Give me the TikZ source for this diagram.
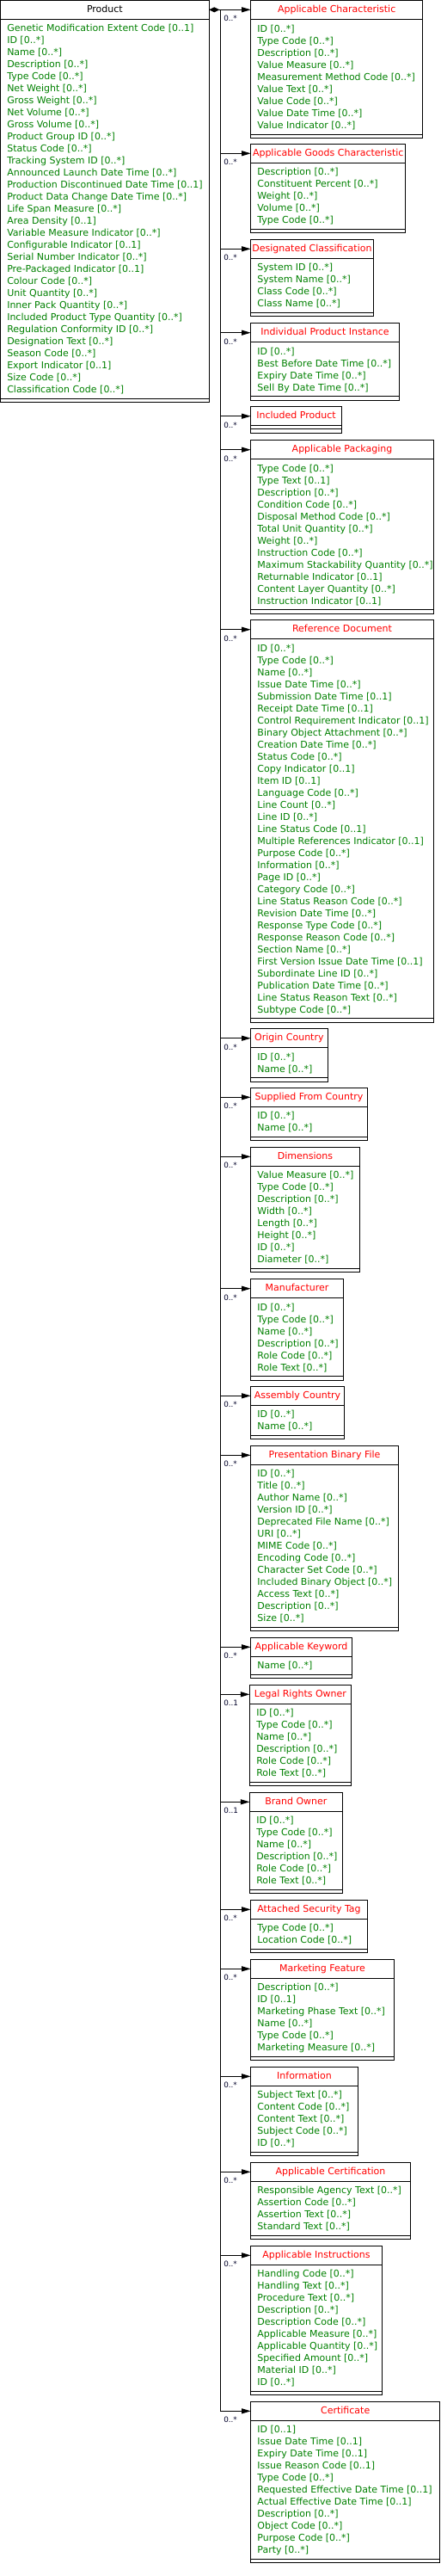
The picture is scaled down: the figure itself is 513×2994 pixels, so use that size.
\documentclass[tikz,border=0pt]{standalone}
\usepackage{fontspec}
\setmainfont{DejaVu Sans}
\usetikzlibrary{arrows.meta,calc}
\definecolor{ttlred}{RGB}{255,0,0}
\definecolor{attrgreen}{RGB}{0,128,0}
\definecolor{multcol}{RGB}{0,0,40}
\tikzset{
  umlframe/.style={draw=black, line width=0.75pt, inner sep=0pt, outer sep=0pt},
  umlline/.style={draw=black, line width=0.75pt},
  umltitle/.style={inner sep=0pt, font=\fontsize{8.25pt}{10pt}\selectfont},
  umlattr/.style={inner sep=0pt, text=attrgreen, font=\fontsize{8.25pt}{10pt}\selectfont},
  mult/.style={inner sep=0pt, anchor=base west, text=multcol, font=\fontsize{6.6pt}{8pt}\selectfont},
  assoc/.style={draw=black, line width=0.75pt, -{Triangle[length=8pt,width=4.5pt]}},
  comp/.style={draw=black, line width=0.75pt, {Diamond[length=9pt,width=4.5pt]}-{Triangle[length=8pt,width=4.5pt]}}
}
\newcommand\umlbox[8][ttlred]{%
  \pgfmathsetmacro\ubW{(#5-#3)*0.75}%
  \pgfmathsetmacro\ubS{(#6>0) ? (#4+43+14*(#6-1)) : (#4+26)}%
  \pgfmathsetmacro\ubB{\ubS+4.6}%
  \pgfmathsetmacro\ubH{(\ubB-#4)*0.75}%
  \pgfmathsetmacro\ubM{(#3+#5)/2}%
  \node[umlframe, minimum width=\ubW pt, minimum height=\ubH pt, anchor=north west] (#2) at (#3,#4) {};
  \node[umlframe, minimum width=\ubW pt, minimum height=16.5pt, anchor=north west] (#2-h) at (#3,#4) {};
  \node[umltitle, text=#1, anchor=base] (#2-t) at (\ubM,#4+14) {#7};
  \draw[umlline] (#3,\ubS) -- (#5,\ubS);
  \foreach \ua [count=\ui] in {#8} {\node[umlattr, anchor=base west] (#2-a\ui) at (#3+7.5,#4+22.5+14*\ui) {\ua};}
}
\newcommand\assoc[2]{%
  \draw[assoc] (trunk) |- (#1-h.west);
  \node[mult] (#1-m) at ($(#1-h.west -| trunk)+(3.3,13.3)$) {#2};
}
\begin{document}
\begin{tikzpicture}[x=0.75pt, y=-0.75pt]
\useasboundingbox (0,0) rectangle (513,2994);

\umlbox[black]{p}{0.5}{0.3}{243.3}{31}{Product}{Genetic Modification Extent Code [0..1], ID [0..*], Name [0..*], Description [0..*], Type Code [0..*], Net Weight [0..*], Gross Weight [0..*], Net Volume [0..*], Gross Volume [0..*], Product Group ID [0..*], Status Code [0..*], Tracking System ID [0..*], Announced Launch Date Time [0..*], Production Discontinued Date Time [0..1], Product Data Change Date Time [0..*], Life Span Measure [0..*], Area Density [0..1], Variable Measure Indicator [0..*], Configurable Indicator [0..1], Serial Number Indicator [0..*], Pre-Packaged Indicator [0..1], Colour Code [0..*], Unit Quantity [0..*], Inner Pack Quantity [0..*], Included Product Type Quantity [0..*], Regulation Conformity ID [0..*], Designation Text [0..*], Season Code [0..*], Export Indicator [0..1], Size Code [0..*], Classification Code [0..*]}

\umlbox{c1}{291.7}{1}{491.7}{9}{Applicable Characteristic}{ID [0..*], Type Code [0..*], Description [0..*], Value Measure [0..*], Measurement Method Code [0..*], Value Text [0..*], Value Code [0..*], Value Date Time [0..*], Value Indicator [0..*]}

\umlbox{c2}{291.7}{167.3}{471.7}{5}{Applicable Goods Characteristic}{Description [0..*], Constituent Percent [0..*], Weight [0..*], Volume [0..*], Type Code [0..*]}

\umlbox{c3}{291.7}{278.3}{434.3}{4}{Designated Classification}{System ID [0..*], System Name [0..*], Class Code [0..*], Class Name [0..*]}

\umlbox{c4}{291.7}{375.7}{464.3}{4}{Individual Product Instance}{ID [0..*], Best Before Date Time [0..*], Expiry Date Time [0..*], Sell By Date Time [0..*]}

\umlbox{c5}{291.7}{472.7}{397.3}{0}{Included Product}{}

\umlbox{c6}{291.7}{511.7}{504.3}{12}{Applicable Packaging}{Type Code [0..*], Type Text [0..1], Description [0..*], Condition Code [0..*], Disposal Method Code [0..*], Total Unit Quantity [0..*], Weight [0..*], Instruction Code [0..*], Maximum Stackability Quantity [0..*], Returnable Indicator [0..1], Content Layer Quantity [0..*], Instruction Indicator [0..1]}

\umlbox{c7}{291.7}{720.7}{504.3}{31}{Reference Document}{ID [0..*], Type Code [0..*], Name [0..*], Issue Date Time [0..*], Submission Date Time [0..1], Receipt Date Time [0..1], Control Requirement Indicator [0..1], Binary Object Attachment [0..*], Creation Date Time [0..*], Status Code [0..*], Copy Indicator [0..1], Item ID [0..1], Language Code [0..*], Line Count [0..*], Line ID [0..*], Line Status Code [0..1], Multiple References Indicator [0..1], Purpose Code [0..*], Information [0..*], Page ID [0..*], Category Code [0..*], Line Status Reason Code [0..*], Revision Date Time [0..*], Response Type Code [0..*], Response Reason Code [0..*], Section Name [0..*], First Version Issue Date Time [0..1], Subordinate Line ID [0..*], Publication Date Time [0..*], Line Status Reason Text [0..*], Subtype Code [0..*]}

\umlbox{c8}{291.7}{1195.7}{381}{2}{Origin Country}{ID [0..*], Name [0..*]}

\umlbox{c9}{291.7}{1264.3}{427.3}{2}{Supplied From Country}{ID [0..*], Name [0..*]}

\umlbox{c10}{291.7}{1333.3}{418.3}{8}{Dimensions}{Value Measure [0..*], Type Code [0..*], Description [0..*], Width [0..*], Length [0..*], Height [0..*], ID [0..*], Diameter [0..*]}

\umlbox{c11}{291.7}{1486.7}{399.3}{6}{Manufacturer}{ID [0..*], Type Code [0..*], Name [0..*], Description [0..*], Role Code [0..*], Role Text [0..*]}

\umlbox{c12}{291.7}{1611.3}{400.3}{2}{Assembly Country}{ID [0..*], Name [0..*]}

\umlbox{c13}{291.7}{1680.3}{463.3}{13}{Presentation Binary File}{ID [0..*], Title [0..*], Author Name [0..*], Version ID [0..*], Deprecated File Name [0..*], URI [0..*], MIME Code [0..*], Encoding Code [0..*], Character Set Code [0..*], Included Binary Object [0..*], Access Text [0..*], Description [0..*], Size [0..*]}

\umlbox{c14}{291.7}{1903.3}{409.3}{1}{Applicable Keyword}{Name [0..*]}

\umlbox{c15}{290.5}{1958.3}{408.3}{6}{Legal Rights Owner}{ID [0..*], Type Code [0..*], Name [0..*], Description [0..*], Role Code [0..*], Role Text [0..*]}

\umlbox{c16}{290.5}{2083.3}{398.3}{6}{Brand Owner}{ID [0..*], Type Code [0..*], Name [0..*], Description [0..*], Role Code [0..*], Role Text [0..*]}

\umlbox{c17}{291.7}{2208.3}{427.3}{2}{Attached Security Tag}{Type Code [0..*], Location Code [0..*]}

\umlbox{c18}{291.7}{2277.3}{458.3}{6}{Marketing Feature}{Description [0..*], ID [0..1], Marketing Phase Text [0..*], Name [0..*], Type Code [0..*], Marketing Measure [0..*]}

\umlbox{c19}{291.7}{2402.3}{416.3}{5}{Information}{Subject Text [0..*], Content Code [0..*], Content Text [0..*], Subject Code [0..*], ID [0..*]}

\umlbox{c20}{291.7}{2513.3}{477.3}{4}{Applicable Certification}{Responsible Agency Text [0..*], Assertion Code [0..*], Assertion Text [0..*], Standard Text [0..*]}

\umlbox{c21}{291.7}{2610.3}{444.3}{10}{Applicable Instructions}{Handling Code [0..*], Handling Text [0..*], Procedure Text [0..*], Description [0..*], Description Code [0..*], Applicable Measure [0..*], Applicable Quantity [0..*], Specified Amount [0..*], Material ID [0..*], ID [0..*]}

\umlbox{c22}{291.7}{2791.3}{511.7}{11}{Certificate}{ID [0..1], Issue Date Time [0..1], Expiry Date Time [0..1], Issue Reason Code [0..1], Type Code [0..*], Requested Effective Date Time [0..1], Actual Effective Date Time [0..1], Description [0..*], Object Code [0..*], Purpose Code [0..*], Party [0..*]}

% connectors
\coordinate (trunk) at ($(p-h.east)+(13.4,0)$);
\draw[comp] (p-h.east) -- (p-h.east -| c1-h.west);
\node[mult] (c1-m) at ($(p-h.east -| trunk)+(3.3,13.3)$) {0..*};
\assoc{c2}{0..*}
\assoc{c3}{0..*}
\assoc{c4}{0..*}
\assoc{c5}{0..*}
\assoc{c6}{0..*}
\assoc{c7}{0..*}
\assoc{c8}{0..*}
\assoc{c9}{0..*}
\assoc{c10}{0..*}
\assoc{c11}{0..*}
\assoc{c12}{0..*}
\assoc{c13}{0..*}
\assoc{c14}{0..*}
\assoc{c15}{0..1}
\assoc{c16}{0..1}
\assoc{c17}{0..*}
\assoc{c18}{0..*}
\assoc{c19}{0..*}
\assoc{c20}{0..*}
\assoc{c21}{0..*}
\assoc{c22}{0..*}
\end{tikzpicture}
\end{document}
